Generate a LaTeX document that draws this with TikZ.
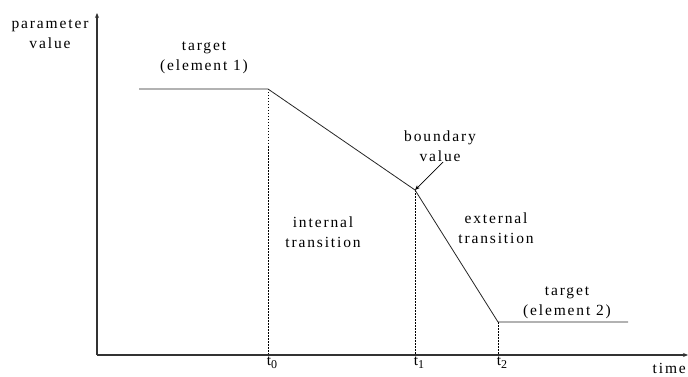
\documentclass[tikz,border=0pt]{standalone}
\usepackage{fontspec}
\setmainfont{Liberation Serif}[LetterSpace=12]
\usetikzlibrary{arrows.meta}
\begin{document}
\begin{tikzpicture}[x=1pt,y=-1pt,
  axis/.style={line width=1.3pt,draw=black!80,-{Stealth[length=5pt,width=4pt]}},
  curve/.style={line width=0.8pt,draw=black!85},
  guide/.style={line width=0.8pt,dash pattern=on 1.5pt off 1.5pt},
  lbl/.style={font=\fontsize{15.5}{19.5}\selectfont,align=center,inner sep=0pt},
  pointer/.style={line width=0.7pt,-{Stealth[length=5pt,width=4pt]}}]
\useasboundingbox (0,0) rectangle (688,377);
% key points
\coordinate (O) at (97,355);
\coordinate (ytop) at (97,13);
\coordinate (xend) at (688,355);
\coordinate (a) at (139,89);
\coordinate (p0) at (268,89);
\coordinate (p1) at (415,190);
\coordinate (p2) at (498,322);
\coordinate (b) at (628,322);
\coordinate (f0) at (268,355);
\coordinate (f1) at (415,355);
\coordinate (f2) at (498,355);
% guides
\draw[guide] (p0) -- (f0);
\draw[guide] (p1) -- (f1);
\draw[guide] (p2) -- (f2);
% curve
\draw[curve] (a) -- (p0) -- (p1) -- (p2) -- (b);
% axes
\draw[axis] (O) -- (ytop);
\draw[axis] (O) -- (xend);
% labels
\node[lbl] (pv) at (50,34) {parameter\\value};
\node[lbl] (t1l) at (204,58) {target\\(element 1)};
\node[lbl] (bv) at (440,146) {boundary\\value};
\node[lbl] (it) at (323,232) {internal\\transition};
\node[lbl] (et) at (496,228) {external\\transition};
\node[lbl] (t2l) at (567,303) {target\\(element 2)};
\node[lbl,anchor=north] (tz) at (272,357) {t\raisebox{-3pt}{\fontsize{12}{12}\selectfont 0}};
\node[lbl,anchor=north] (to) at (419,357) {t\raisebox{-3pt}{\fontsize{12}{12}\selectfont 1}};
\node[lbl,anchor=north] (tt) at (502,357) {t\raisebox{-3pt}{\fontsize{12}{12}\selectfont 2}};
\node[lbl,anchor=south east] (tm) at (686,374) {time};
\coordinate (bvs) at (443,162);
\draw[pointer] (bvs) -- (p1);
\end{tikzpicture}
\end{document}
